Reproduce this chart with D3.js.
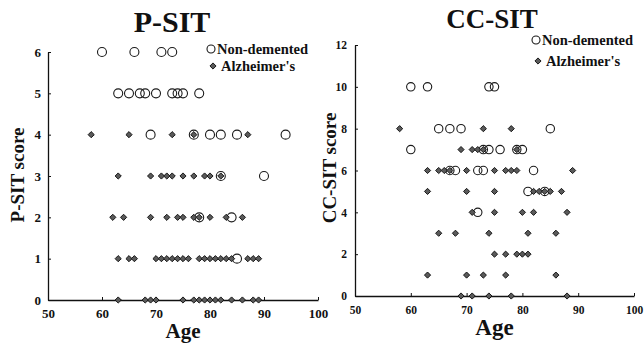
<!DOCTYPE html>
<html>
<head>
<meta charset="utf-8">
<script src="https://cdn.jsdelivr.net/npm/d3@7"></script>
<style>
  body { margin: 0; background: #fff; }
</style>
</head>
<body>
<div id="chart"></div>
<script>
// P-SIT data, [age, score]
const psitNonDemented = [
  [60, 6], [66, 6], [71, 6], [73, 6],
  [63, 5], [65, 5], [67, 5], [68, 5], [70, 5], [73, 5], [74, 5], [75, 5], [78, 5],
  [69, 4], [77, 4], [80, 4], [82, 4], [85, 4], [94, 4],
  [82, 3], [90, 3],
  [78, 2], [84, 2],
  [85, 1]
];
const psitAlzheimers = [
  [58, 4], [65, 4], [73, 4], [77, 4], [87, 4],
  [63, 3], [69, 3], [71, 3], [72, 3], [73, 3], [75, 3], [77, 3], [79, 3], [80, 3], [82, 3],
  [62, 2], [64, 2], [69, 2], [72, 2], [74, 2], [75, 2], [77, 2], [78, 2], [80, 2], [83, 2], [86, 2],
  [63, 1], [65, 1], [66, 1], [70, 1], [71, 1], [72, 1], [73, 1], [74, 1], [75, 1], [76, 1],
  [78, 1], [79, 1], [80, 1], [81, 1], [82, 1], [83, 1], [84, 1], [87, 1], [88, 1], [89, 1],
  [63, 0], [68, 0], [69, 0], [70, 0], [75, 0], [77, 0], [78, 0], [79, 0], [80, 0], [81, 0],
  [82, 0], [84, 0], [86, 0], [88, 0], [89, 0]
];

// CC-SIT data, [age, score]
const ccsitNonDemented = [
  [60, 10], [63, 10], [74, 10], [75, 10],
  [65, 8], [67, 8], [69, 8], [85, 8],
  [60, 7], [73, 7], [74, 7], [76, 7], [79, 7], [80, 7],
  [67, 6], [68, 6], [72, 6], [73, 6], [82, 6],
  [81, 5], [84, 5],
  [72, 4]
];
const ccsitAlzheimers = [
  [58, 8], [73, 8], [78, 8],
  [69, 7], [71, 7], [72, 7], [73, 7], [79, 7],
  [63, 6], [65, 6], [66, 6], [67, 6], [70, 6], [75, 6], [77, 6], [78, 6], [79, 6], [89, 6],
  [63, 5], [70, 5], [75, 5], [82, 5], [83, 5], [84, 5], [85, 5], [87, 5],
  [71, 4], [75, 4], [80, 4], [82, 4], [88, 4],
  [65, 3], [68, 3], [74, 3], [81, 3], [86, 3],
  [75, 2], [77, 2], [79, 2], [80, 2], [81, 2],
  [63, 1], [70, 1], [73, 1], [77, 1], [86, 1],
  [69, 0], [71, 0], [74, 0], [78, 0], [88, 0]
];

const ageTicks = [50, 60, 70, 80, 90, 100];
const psitTicks = [0, 1, 2, 3, 4, 5, 6];
const ccsitTicks = [0, 2, 4, 6, 8, 10, 12];
const legendLabels = ['Non-demented', "Alzheimer's"];

const FONT = '"Liberation Serif", "Times New Roman", "DejaVu Serif", serif';

const svg = d3.select('#chart').append('svg').attr('width', 644).attr('height', 347);

const diamond = d3.symbol().type(d3.symbolSquare).size(19);

function label(sel, size) {
  return sel
    .style('font-family', FONT)
    .style('font-weight', 'bold')
    .style('font-size', size + 'px')
    .attr('fill', '#111');
}

function drawPanel(p) {
  const x = d3.scaleLinear().domain([50, 100]).range([p.left, p.right]);
  const y = d3.scaleLinear().domain(p.yDomain).range([p.bottom, p.top]);
  const g = svg.append('g');

  // axes
  const axisX = d3.axisBottom(x).tickValues(ageTicks).tickFormat(d3.format('d'))
    .tickSizeInner(-3).tickSizeOuter(0).tickPadding(p.xPad);
  const axisY = d3.axisLeft(y).tickValues(p.yTicks).tickFormat(d3.format('d'))
    .tickSizeInner(-3).tickSizeOuter(0).tickPadding(p.yPad);
  const gx = g.append('g').attr('transform', `translate(0,${p.bottom})`).call(axisX);
  const gy = g.append('g').attr('transform', `translate(${p.left},0)`).call(axisY);
  [gx, gy].forEach((a) => {
    a.select('.domain').attr('stroke', '#111').attr('stroke-width', 1.3);
    a.selectAll('.tick line').attr('stroke', '#111').attr('stroke-width', 1);
    label(a.selectAll('text'), p.tickFont);
  });

  // points
  g.append('g')
    .selectAll('circle')
    .data(p.nd)
    .join('circle')
    .attr('cx', (d) => x(d[0]))
    .attr('cy', (d) => y(d[1]))
    .attr('r', p.r)
    .attr('fill', 'none')
    .attr('stroke', '#1a1a1a')
    .attr('stroke-width', 1.1);
  g.append('g')
    .selectAll('path')
    .data(p.ad)
    .join('path')
    .attr('d', diamond)
    .attr('transform', (d) => `translate(${x(d[0])},${y(d[1])}) rotate(45)`)
    .attr('fill', '#5a5a5a')
    .attr('stroke', '#111')
    .attr('stroke-width', 0.9);

  // title and labels
  label(g.append('text'), p.titleFont)
    .attr('x', p.titleX)
    .attr('y', p.titleY)
    .attr('text-anchor', 'middle')
    .text(p.title);
  label(g.append('text'), p.ageFont)
    .attr('x', (p.left + p.right) / 2 + p.ageDx)
    .attr('y', p.ageY)
    .attr('text-anchor', 'middle')
    .text('Age');
  label(g.append('text'), 19)
    .attr('transform', `translate(${p.yLabelX},${p.yLabelY}) rotate(-90)`)
    .attr('text-anchor', 'middle')
    .text(p.yLabel);

  // legend
  const lg = g.append('g');
  lg.append('circle')
    .attr('cx', p.legX).attr('cy', p.legY1).attr('r', 4)
    .attr('fill', 'none').attr('stroke', '#1a1a1a').attr('stroke-width', 1.1);
  lg.append('path')
    .attr('d', diamond)
    .attr('transform', `translate(${p.legX + 2},${p.legY2}) rotate(45)`)
    .attr('fill', '#5a5a5a').attr('stroke', '#111').attr('stroke-width', 0.9);
  label(lg.append('text'), 14.5).attr('x', p.legX + 6).attr('y', p.legY1 + 5).text(legendLabels[0]);
  label(lg.append('text'), 14.5).attr('x', p.legX + 10).attr('y', p.legY2 + 5).text(legendLabels[1]);
}

drawPanel({
  left: 48, right: 318, top: 52, bottom: 300,
  yDomain: [0, 6], yTicks: psitTicks, xPad: 9, yPad: 7, tickFont: 13,
  nd: psitNonDemented, ad: psitAlzheimers, r: 4.5,
  title: 'P-SIT', titleX: 172, titleY: 32, titleFont: 30,
  ageDx: 0, ageY: 338, ageFont: 21,
  yLabel: 'P-SIT score', yLabelX: 24, yLabelY: 175,
  legX: 211, legY1: 49, legY2: 66
});

drawPanel({
  left: 355, right: 634, top: 45, bottom: 296,
  yDomain: [0, 12], yTicks: ccsitTicks, xPad: 10, yPad: 8, tickFont: 11.5,
  nd: ccsitNonDemented, ad: ccsitAlzheimers, r: 4.2,
  title: 'CC-SIT', titleX: 492, titleY: 28, titleFont: 27,
  ageDx: 0, ageY: 335, ageFont: 23,
  yLabel: 'CC-SIT score', yLabelX: 336, yLabelY: 168,
  legX: 536, legY1: 40, legY2: 61
});
</script>
</body>
</html>
